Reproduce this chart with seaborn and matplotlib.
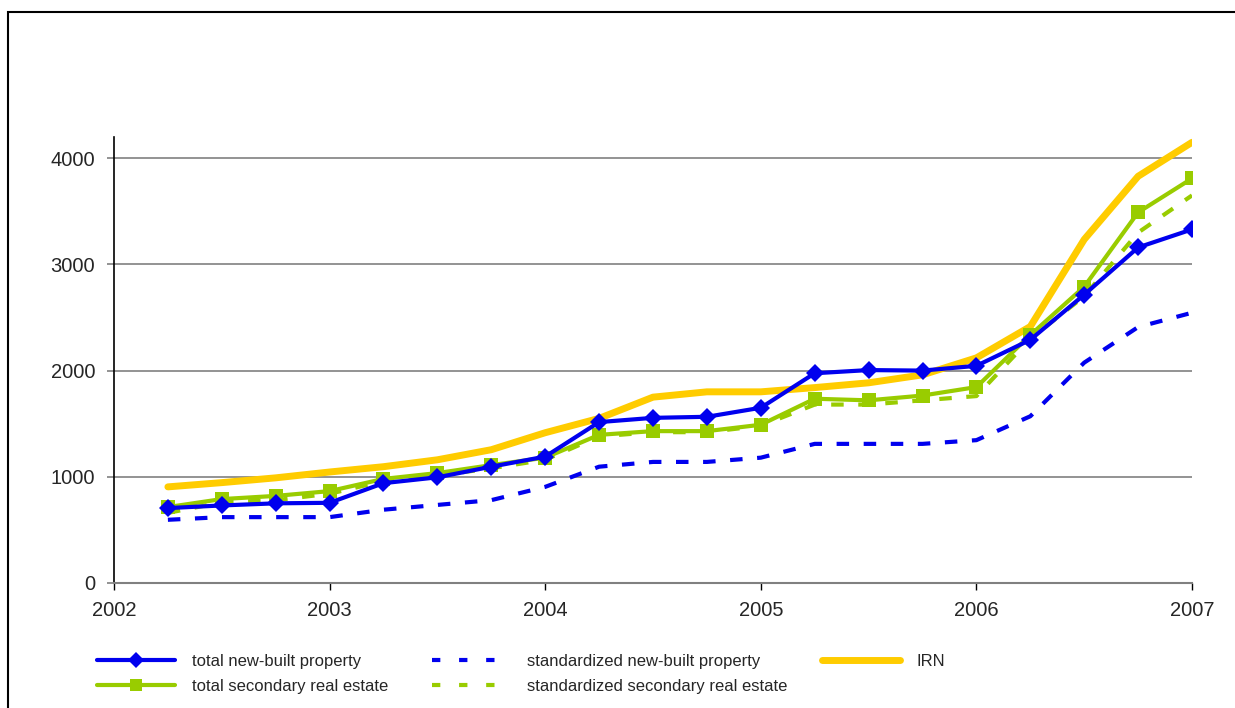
import numpy as np
import pandas as pd
import seaborn as sns
import matplotlib.pyplot as plt
from matplotlib.patches import Rectangle
from matplotlib.lines import Line2D

# quarterly observations, 2002 Q2 .. 2007 Q1 (end of quarter as decimal year)
quarters = [2002.25, 2002.5, 2002.75, 2003.0, 2003.25, 2003.5, 2003.75, 2004.0,
            2004.25, 2004.5, 2004.75, 2005.0, 2005.25, 2005.5, 2005.75, 2006.0,
            2006.25, 2006.5, 2006.75, 2007.0]

total_new = [705, 730, 750, 755, 940, 995, 1095, 1190, 1515, 1555, 1565, 1650,
             1975, 2005, 2000, 2045, 2290, 2715, 3160, 3330]
std_new = [595, 620, 620, 620, 690, 735, 780, 905, 1095, 1140, 1140, 1180,
           1310, 1310, 1310, 1345, 1570, 2075, 2410, 2545]
total_sec = [715, 790, 820, 865, 980, 1035, 1110, 1180, 1395, 1430, 1430, 1490,
             1735, 1720, 1765, 1845, 2335, 2790, 3490, 3810]
std_sec = [660, 760, 780, 840, 960, 1010, 1080, 1160, 1380, 1420, 1420, 1480,
           1680, 1680, 1720, 1760, 2300, 2700, 3300, 3650]
irn = [905, 945, 990, 1045, 1095, 1160, 1255, 1415, 1550, 1750, 1800, 1800,
       1840, 1885, 1960, 2120, 2415, 3235, 3830, 4150]

year_ticks = [2002, 2003, 2004, 2005, 2006, 2007]
value_ticks = [0, 1000, 2000, 3000, 4000]

df = pd.DataFrame({
    "quarter": quarters,
    "total new-built property": total_new,
    "standardized new-built property": std_new,
    "total secondary real estate": total_sec,
    "standardized secondary real estate": std_sec,
    "IRN": irn,
})

blue = "#0000EE"
green = "#99CC00"
orange = "#FFCC00"

sns.set_style("white")
plt.rcParams["font.family"] = ["Liberation Sans", "DejaVu Sans"]

fig = plt.figure(figsize=(12.35, 7.08), dpi=100)
ax = fig.add_axes([0.0923, 0.1766, 0.8729, 0.6299])

# outer frame of the original picture
fig.patches.append(Rectangle((8 / 1235, -0.05), 1.1, 1 - 12 / 708 + 0.05,
                             transform=fig.transFigure, fill=False,
                             edgecolor="black", linewidth=1.5, zorder=0))

for yv in value_ticks[1:]:
    ax.axhline(yv, color="#808080", linewidth=1.2, zorder=1)

sns.lineplot(data=df, x="quarter", y="standardized new-built property", ax=ax,
             color=blue, linewidth=3, zorder=3)
ax.lines[-1].set_dashes([3, 3.5])
sns.lineplot(data=df, x="quarter", y="standardized secondary real estate", ax=ax,
             color=green, linewidth=3, zorder=3)
ax.lines[-1].set_dashes([3, 3.5])
sns.lineplot(data=df, x="quarter", y="IRN", ax=ax,
             color=orange, linewidth=5, zorder=4)
sns.lineplot(data=df, x="quarter", y="total secondary real estate", ax=ax,
             color=green, linewidth=3, marker="s", markersize=10,
             markeredgewidth=0, zorder=5)
sns.lineplot(data=df, x="quarter", y="total new-built property", ax=ax,
             color=blue, linewidth=3, marker="D", markersize=9,
             markeredgewidth=0, zorder=6)

ax.set_xlim(2002, 2007)
ax.set_ylim(0, 4200)
ax.set_xticks(year_ticks)
ax.set_yticks(value_ticks)
ax.set_xlabel("")
ax.set_ylabel("")

for side in ["top", "right"]:
    ax.spines[side].set_visible(False)
ax.spines["left"].set_color("black")
ax.spines["left"].set_linewidth(1.2)
ax.spines["bottom"].set_color("#808080")
ax.spines["bottom"].set_linewidth(1.5)

ax.tick_params(axis="x", direction="out", length=5, width=1, color="black",
               labelsize=14.5, pad=8, bottom=True)
ax.tick_params(axis="y", direction="out", length=5, width=1.2, color="#808080",
               labelsize=14.5, pad=8.5, left=True)

# legend: three columns placed like the original
leg_kw = dict(loc="upper left", frameon=False, fontsize=12, handlelength=4.7,
              handletextpad=1.0, labelspacing=0.58, borderpad=0,
              borderaxespad=0)
col1 = [Line2D([], [], color=blue, linewidth=3, marker="D", markersize=8,
               markeredgewidth=0),
        Line2D([], [], color=green, linewidth=3, marker="s", markersize=9,
               markeredgewidth=0)]
col2 = [Line2D([], [], color=blue, linewidth=3, dashes=[2, 4.5]),
        Line2D([], [], color=green, linewidth=3, dashes=[2, 4.5])]
col3 = [Line2D([], [], color=orange, linewidth=5)]
top = 1 - 654 / 708
fig.legend(col1, ["total new-built property", "total secondary real estate"],
           bbox_to_anchor=(97 / 1235, top), **leg_kw)
fig.legend(col2, ["standardized new-built property",
                  "standardized secondary real estate"],
           bbox_to_anchor=(432 / 1235, top), **leg_kw)
fig.legend(col3, ["IRN"], bbox_to_anchor=(822 / 1235, top), **leg_kw)

fig.savefig("out.png", dpi=100)
